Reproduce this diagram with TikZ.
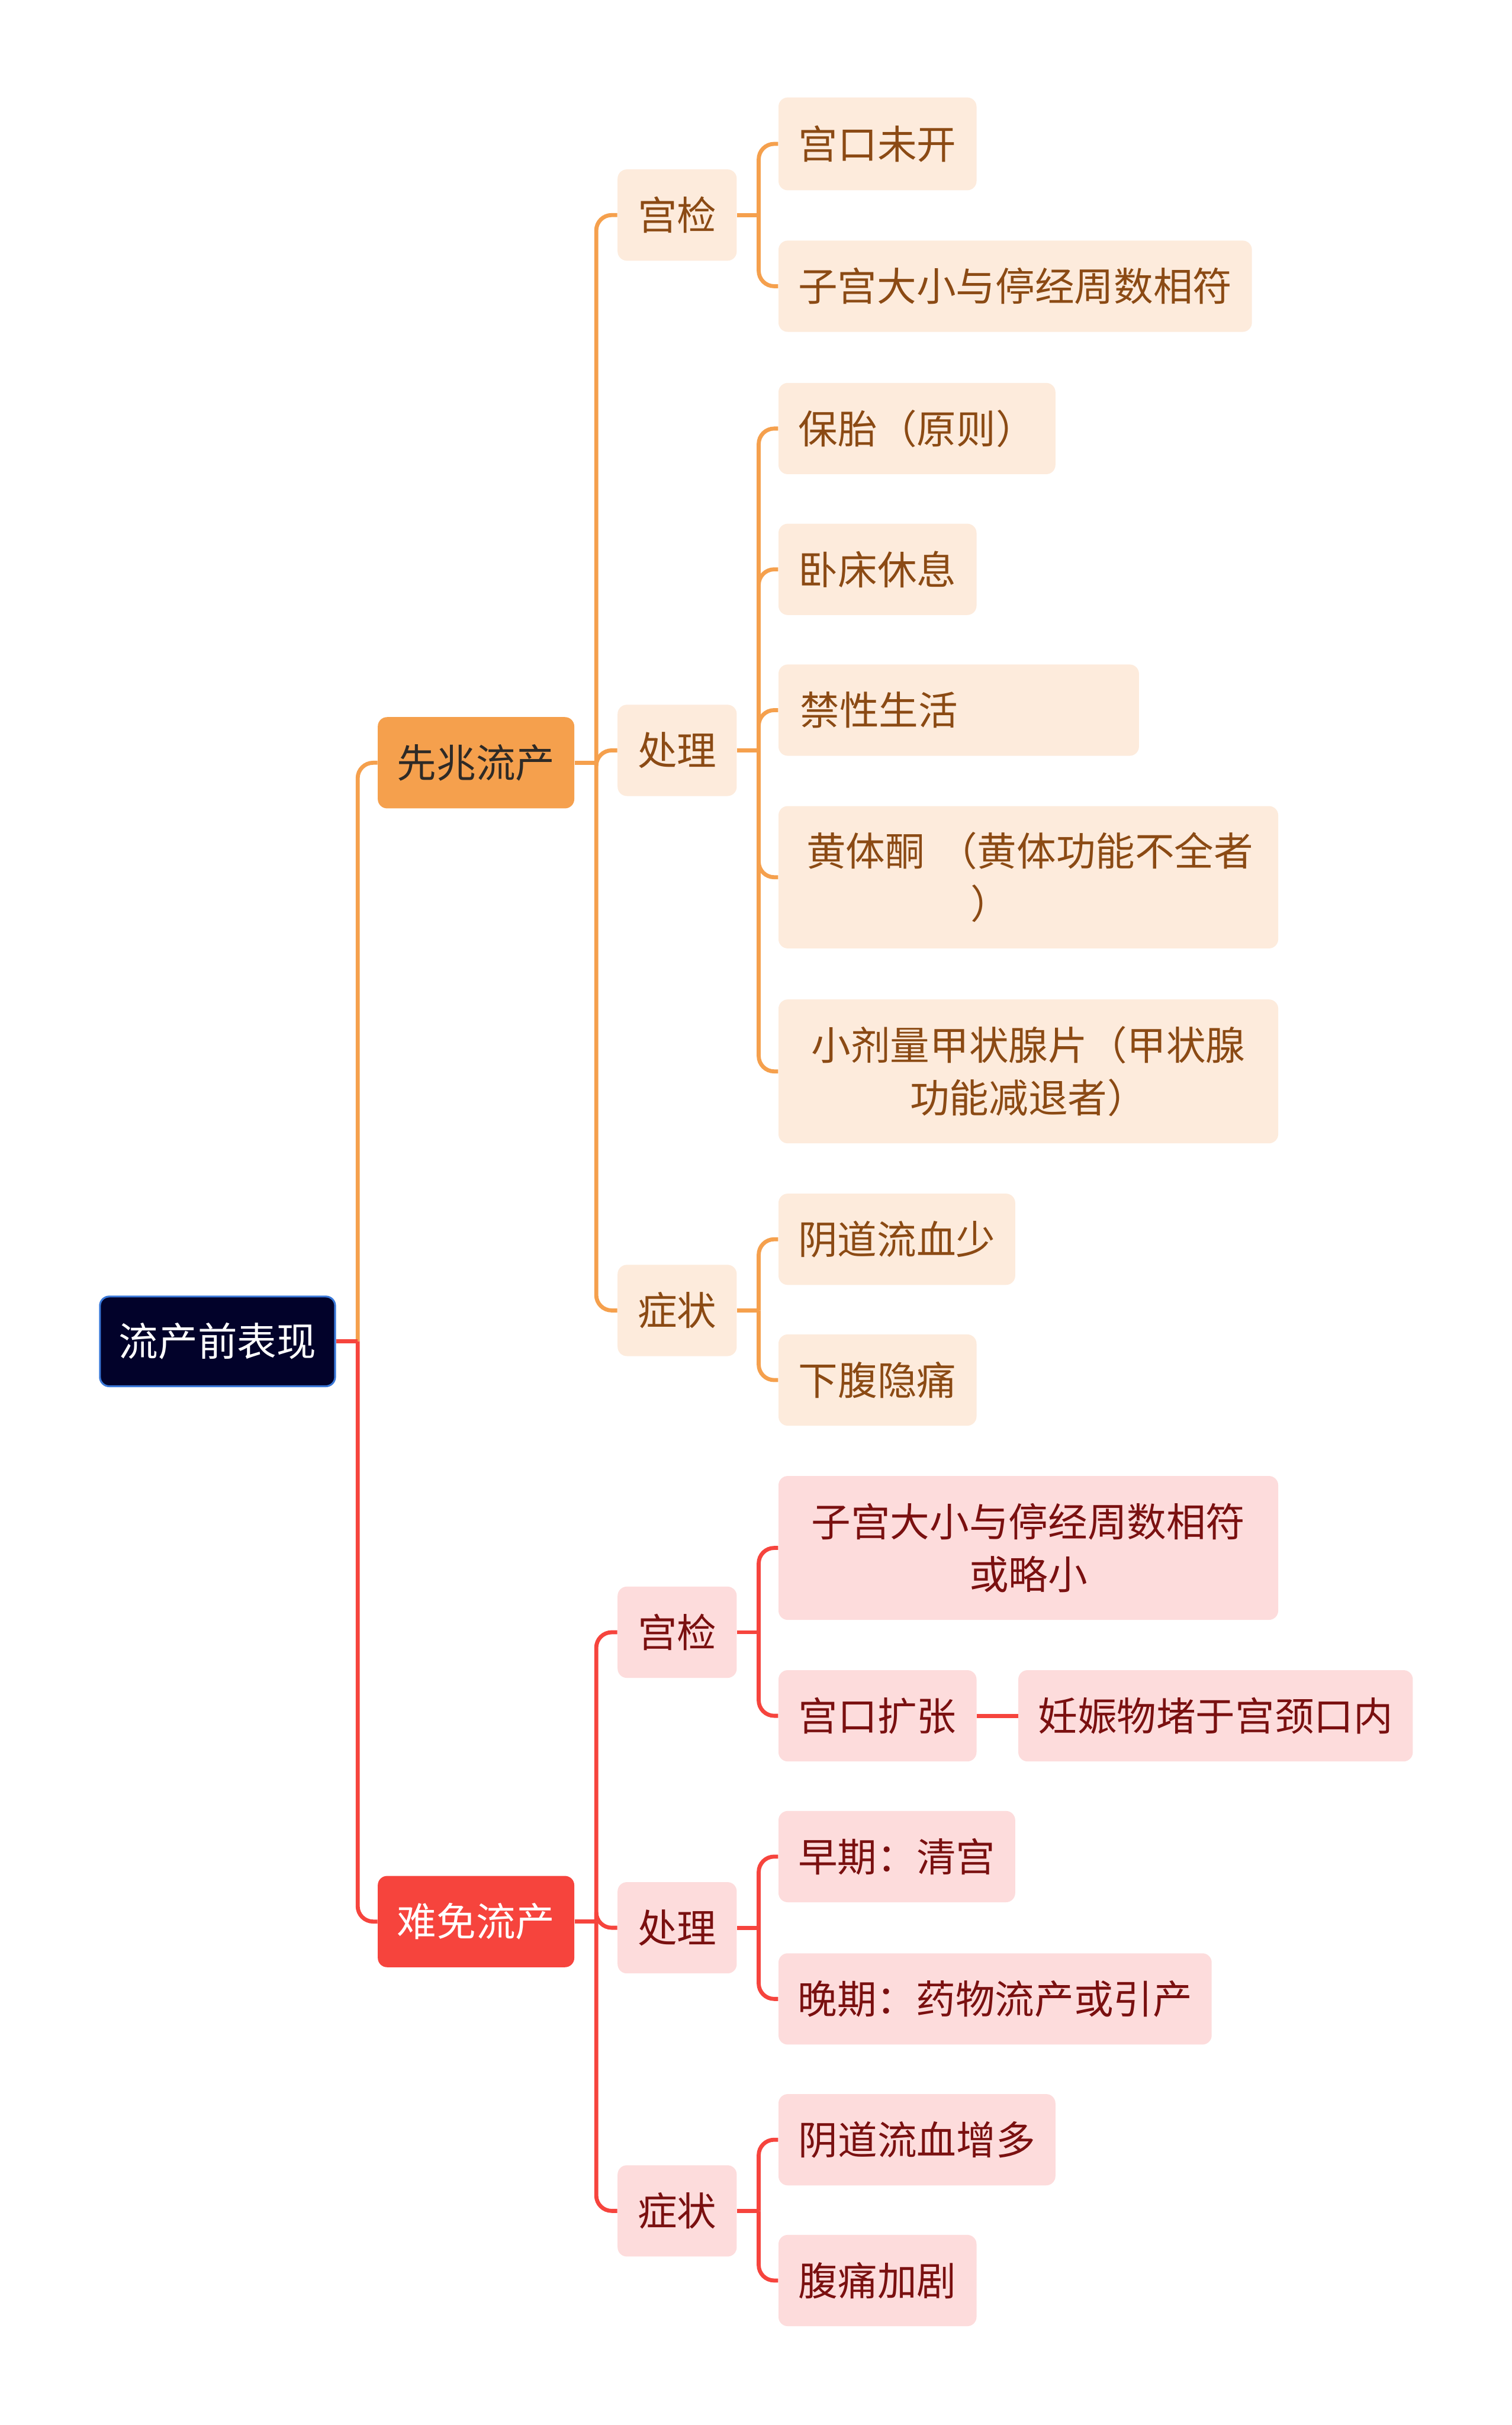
\documentclass[tikz,border=0pt]{standalone}
\usepackage{fontspec}
\setmainfont{Noto Sans CJK SC}
\usetikzlibrary{calc}
\definecolor{rootfill}{HTML}{02022A}
\definecolor{rootline}{HTML}{3A78D8}
\definecolor{orgmain}{HTML}{F5A04D}
\definecolor{orglight}{HTML}{FDEBDC}
\definecolor{orgtext}{HTML}{8B4A14}
\definecolor{orgdark}{HTML}{2E2A26}
\definecolor{redmain}{HTML}{F6443D}
\definecolor{redlight}{HTML}{FDDCDC}
\definecolor{redtext}{HTML}{7A1010}
\begin{document}
\begin{tikzpicture}[x=1pt,y=-1pt,
  base/.style={rounded corners=6pt, inner sep=0pt, anchor=west, align=center,
    font=\fontsize{25.5}{34}\selectfont, minimum height=59pt},
  rootbox/.style={base, fill=rootfill, draw=rootline, line width=1.2pt, text=white},
  omain/.style={base, fill=orgmain, text=orgdark},
  olight/.style={base, fill=orglight, text=orgtext},
  rmain/.style={base, fill=redmain, text=white},
  rlight/.style={base, fill=redlight, text=redtext},
  oline/.style={draw=orgmain, line width=2.6pt, rounded corners=10pt},
  rline/.style={draw=redmain, line width=2.6pt, rounded corners=10pt}
]
\useasboundingbox[fill=white] (0,0) rectangle (977,1567.4);

% root and level 1
\node[rootbox, minimum width=152pt, minimum height=58pt] (root) at (64,867) {流产前表现};
\node[omain, minimum width=127pt] (xz) at (244,493) {先兆流产};
\node[rmain, minimum width=127pt] (nm) at (244,1242) {难免流产};

% level 2 (orange)
\node[olight, minimum width=77pt] (xgj) at (399,139) {宫检};
\node[olight, minimum width=77pt] (xcl) at (399,485) {处理};
\node[olight, minimum width=77pt] (xzz) at (399,847) {症状};

% level 2 (red)
\node[rlight, minimum width=77pt] (ngj) at (399,1055) {宫检};
\node[rlight, minimum width=77pt] (ncl) at (399,1246) {处理};
\node[rlight, minimum width=77pt] (nzz) at (399,1429) {症状};

% level 3 (orange)
\node[olight, minimum width=128pt, minimum height=60pt] (a1) at (503,93) {宫口未开};
\node[olight, minimum width=306pt] (a2) at (503,185) {子宫大小与停经周数相符};
\node[olight, minimum width=179pt] (b1) at (503,277) {保胎（原则）};
\node[olight, minimum width=128pt] (b2) at (503,368) {卧床休息};
\node[olight, inner xsep=14pt, text width=205pt, align=left] (b3) at (503,459) {禁性生活};
\node[olight, text width=323pt, align=left, minimum height=92pt] (b4) at (503,567) {\hspace*{18pt}\mbox{黄体酮 （黄体功能不全者}\\\hspace*{124pt}）};
\node[olight, minimum width=323pt, minimum height=93pt] (b5) at (503,692.5) {小剂量甲状腺片（甲状腺\\功能减退者）};
\node[olight, minimum width=153pt] (c1) at (503,801) {阴道流血少};
\node[olight, minimum width=128pt] (c2) at (503,892) {下腹隐痛};

% level 3 (red)
\node[rlight, minimum width=323pt, minimum height=93pt] (d1) at (503,1000.5) {子宫大小与停经周数相符\\或略小};
\node[rlight, minimum width=128pt] (d2) at (503,1109) {宫口扩张};
\node[rlight, minimum width=255pt] (d3) at (658,1109) {妊娠物堵于宫颈口内};
\node[rlight, minimum width=153pt] (e1) at (503,1200) {早期：清宫};
\node[rlight, minimum width=280pt] (e2) at (503,1292) {晚期：药物流产或引产};
\node[rlight, minimum width=179pt] (f1) at (503,1383) {阴道流血增多};
\node[rlight, minimum width=128pt] (f2) at (503,1474) {腹痛加剧};

% junction coordinates
\coordinate (t0) at ($(root.east)+(14,0)$);
\coordinate (t1) at ($(xz.east)+(14,0)$);
\coordinate (t2) at ($(nm.east)+(14,0)$);
\coordinate (u1) at ($(xgj.east)+(14,0)$);
\coordinate (u2) at ($(xcl.east)+(14,0)$);
\coordinate (u3) at ($(xzz.east)+(14,0)$);
\coordinate (v1) at ($(ngj.east)+(14,0)$);
\coordinate (v2) at ($(ncl.east)+(14,0)$);
\coordinate (v3) at ($(nzz.east)+(14,0)$);

% root connectors
\draw[oline] (t0) |- (xz.west);
\draw[rline] (t0) |- (nm.west);
\draw[rline] (root.east) -- (t0);

% orange connectors
\draw[oline] (xz.east) -- (t1);
\draw[oline] (t1) |- (xgj.west);
\draw[oline] (t1) |- (xcl.west);
\draw[oline] (t1) |- (xzz.west);

\draw[oline] (xgj.east) -- (u1);
\draw[oline] (u1) |- (a1.west);
\draw[oline] (u1) |- (a2.west);

\draw[oline] (xcl.east) -- (u2);
\draw[oline] (u2) |- (b1.west);
\draw[oline] (u2) |- (b2.west);
\draw[oline] (u2) |- (b3.west);
\draw[oline] (u2) |- (b4.west);
\draw[oline] (u2) |- (b5.west);

\draw[oline] (xzz.east) -- (u3);
\draw[oline] (u3) |- (c1.west);
\draw[oline] (u3) |- (c2.west);

% red connectors
\draw[rline] (nm.east) -- (t2);
\draw[rline] (t2) |- (ngj.west);
\draw[rline] (t2) |- (ncl.west);
\draw[rline] (t2) |- (nzz.west);

\draw[rline] (ngj.east) -- (v1);
\draw[rline] (v1) |- (d1.west);
\draw[rline] (v1) |- (d2.west);
\draw[rline] (d2.east) -- (d3.west);

\draw[rline] (ncl.east) -- (v2);
\draw[rline] (v2) |- (e1.west);
\draw[rline] (v2) |- (e2.west);

\draw[rline] (nzz.east) -- (v3);
\draw[rline] (v3) |- (f1.west);
\draw[rline] (v3) |- (f2.west);
\end{tikzpicture}
\end{document}
